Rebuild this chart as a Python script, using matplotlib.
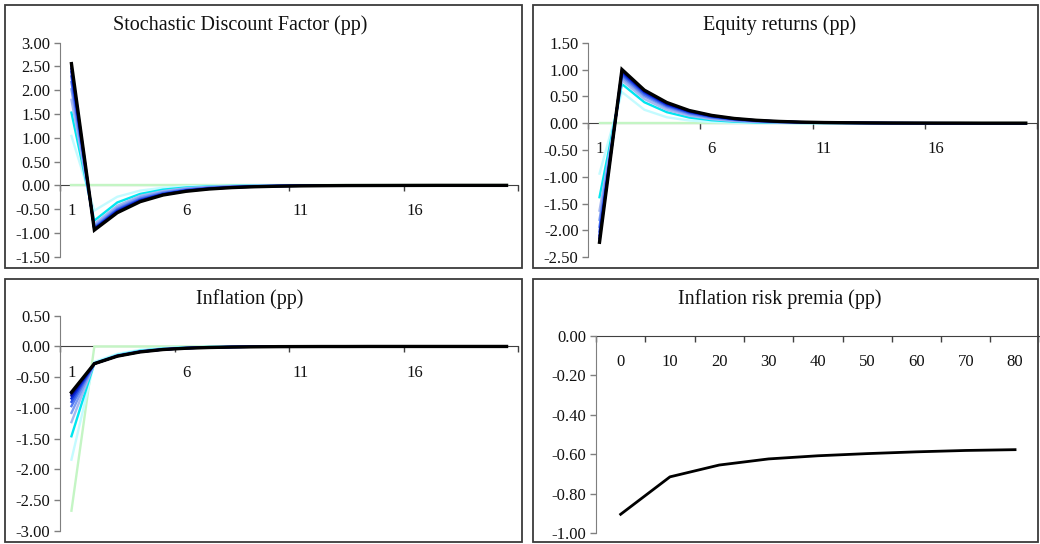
import matplotlib
matplotlib.use("Agg")
import matplotlib.pyplot as plt
from matplotlib.patches import Rectangle
from matplotlib.ticker import FormatStrFormatter

plt.rcParams['font.family'] = ['Liberation Serif', 'DejaVu Serif']
plt.rcParams['axes.unicode_minus'] = False

# ---------------- data ----------------
periods = list(range(1, 21))

sdf_0 = [0.0] * 20
sdf_1 = [1.04, -0.53, -0.24, -0.11, -0.05, -0.022, -0.01, -0.005, -0.002, -0.001, 0, 0, 0, 0, 0, 0, 0, 0, 0, 0]
sdf_2 = [1.53, -0.74, -0.36, -0.18, -0.09, -0.045, -0.022, -0.011, -0.005, -0.003, -0.001, 0, 0, 0, 0, 0, 0, 0, 0, 0]
sdf_3 = [1.80, -0.81, -0.43, -0.22, -0.12, -0.06, -0.03, -0.016, -0.008, -0.004, -0.002, -0.001, 0, 0, 0, 0, 0, 0, 0, 0]
sdf_4 = [2.02, -0.85, -0.47, -0.25, -0.14, -0.075, -0.04, -0.022, -0.012, -0.006, -0.003, -0.002, -0.001, 0, 0, 0, 0, 0, 0, 0]
sdf_5 = [2.17, -0.88, -0.50, -0.28, -0.16, -0.09, -0.05, -0.028, -0.016, -0.009, -0.005, -0.003, -0.002, -0.001, 0, 0, 0, 0, 0, 0]
sdf_6 = [2.29, -0.90, -0.52, -0.30, -0.175, -0.10, -0.058, -0.034, -0.02, -0.011, -0.006, -0.004, -0.002, -0.001, 0, 0, 0, 0, 0, 0]
sdf_7 = [2.38, -0.91, -0.54, -0.315, -0.185, -0.11, -0.065, -0.038, -0.022, -0.013, -0.008, -0.005, -0.003, -0.002, -0.001, 0, 0, 0, 0, 0]
sdf_8 = [2.45, -0.92, -0.555, -0.325, -0.19, -0.115, -0.07, -0.042, -0.025, -0.015, -0.009, -0.005, -0.003, -0.002, -0.001, 0, 0, 0, 0, 0]
sdf_9 = [2.51, -0.93, -0.565, -0.335, -0.198, -0.12, -0.073, -0.044, -0.027, -0.016, -0.01, -0.006, -0.004, -0.002, -0.001, -0.001, 0, 0, 0, 0]
sdf_10 = [2.56, -0.94, -0.575, -0.343, -0.203, -0.125, -0.077, -0.047, -0.029, -0.018, -0.011, -0.007, -0.004, -0.003, -0.002, -0.001, 0, 0, 0, 0]

eq_0 = [0.0] * 20
eq_1 = [-0.94, 0.58, 0.25, 0.11, 0.05, 0.022, 0.01, 0.005, 0.002, 0.001, 0, 0, 0, 0, 0, 0, 0, 0, 0, 0]
eq_2 = [-1.38, 0.73, 0.39, 0.205, 0.105, 0.055, 0.028, 0.014, 0.007, 0.004, 0.002, 0.001, 0, 0, 0, 0, 0, 0, 0, 0]
eq_3 = [-1.63, 0.80, 0.45, 0.25, 0.14, 0.075, 0.04, 0.022, 0.012, 0.006, 0.003, 0.002, 0.001, 0, 0, 0, 0, 0, 0, 0]
eq_4 = [-1.80, 0.85, 0.50, 0.29, 0.165, 0.095, 0.053, 0.03, 0.017, 0.009, 0.005, 0.003, 0.002, 0.001, 0, 0, 0, 0, 0, 0]
eq_5 = [-1.93, 0.89, 0.53, 0.315, 0.185, 0.108, 0.063, 0.036, 0.021, 0.012, 0.007, 0.004, 0.002, 0.001, 0.001, 0, 0, 0, 0, 0]
eq_6 = [-2.02, 0.92, 0.56, 0.335, 0.20, 0.12, 0.07, 0.042, 0.025, 0.015, 0.009, 0.005, 0.003, 0.002, 0.001, 0, 0, 0, 0, 0]
eq_7 = [-2.09, 0.95, 0.58, 0.35, 0.212, 0.128, 0.077, 0.046, 0.028, 0.017, 0.01, 0.006, 0.004, 0.002, 0.001, 0.001, 0, 0, 0, 0]
eq_8 = [-2.14, 0.97, 0.595, 0.365, 0.222, 0.135, 0.082, 0.05, 0.03, 0.018, 0.011, 0.007, 0.004, 0.002, 0.001, 0.001, 0, 0, 0, 0]
eq_9 = [-2.18, 0.99, 0.605, 0.375, 0.23, 0.14, 0.086, 0.053, 0.032, 0.02, 0.012, 0.007, 0.005, 0.003, 0.002, 0.001, 0.001, 0, 0, 0]
eq_10 = [-2.22, 1.00, 0.615, 0.385, 0.236, 0.145, 0.088, 0.054, 0.033, 0.02, 0.012, 0.008, 0.005, 0.003, 0.002, 0.001, 0.001, 0, 0, 0]

inf_0 = [-2.67, 0, 0, 0, 0, 0, 0, 0, 0, 0, 0, 0, 0, 0, 0, 0, 0, 0, 0, 0]
inf_1 = [-1.84, -0.25, -0.12, -0.055, -0.025, -0.011, -0.005, -0.002, -0.001, 0, 0, 0, 0, 0, 0, 0, 0, 0, 0, 0]
inf_2 = [-1.46, -0.27, -0.14, -0.07, -0.035, -0.017, -0.008, -0.004, -0.002, -0.001, 0, 0, 0, 0, 0, 0, 0, 0, 0, 0]
inf_3 = [-1.23, -0.275, -0.145, -0.077, -0.04, -0.021, -0.011, -0.006, -0.003, -0.002, -0.001, 0, 0, 0, 0, 0, 0, 0, 0, 0]
inf_4 = [-1.08, -0.277, -0.15, -0.08, -0.043, -0.023, -0.012, -0.007, -0.004, -0.002, -0.001, 0, 0, 0, 0, 0, 0, 0, 0, 0]
inf_5 = [-0.97, -0.278, -0.152, -0.083, -0.045, -0.025, -0.014, -0.008, -0.004, -0.002, -0.001, -0.001, 0, 0, 0, 0, 0, 0, 0, 0]
inf_6 = [-0.90, -0.279, -0.154, -0.085, -0.047, -0.026, -0.015, -0.008, -0.005, -0.003, -0.002, -0.001, 0, 0, 0, 0, 0, 0, 0, 0]
inf_7 = [-0.845, -0.28, -0.155, -0.086, -0.048, -0.027, -0.015, -0.009, -0.005, -0.003, -0.002, -0.001, 0, 0, 0, 0, 0, 0, 0, 0]
inf_8 = [-0.80, -0.28, -0.156, -0.087, -0.049, -0.028, -0.016, -0.009, -0.005, -0.003, -0.002, -0.001, -0.001, 0, 0, 0, 0, 0, 0, 0]
inf_9 = [-0.77, -0.28, -0.157, -0.088, -0.05, -0.028, -0.016, -0.009, -0.005, -0.003, -0.002, -0.001, -0.001, 0, 0, 0, 0, 0, 0, 0]
inf_10 = [-0.745, -0.28, -0.158, -0.089, -0.05, -0.029, -0.017, -0.01, -0.006, -0.003, -0.002, -0.001, -0.001, 0, 0, 0, 0, 0, 0, 0]

irp_horizons = ['0', '10', '20', '30', '40', '50', '60', '70', '80']
irp_values = [-0.905, -0.715, -0.655, -0.624, -0.608, -0.597, -0.588, -0.581, -0.577]

sdf_series = [sdf_0, sdf_1, sdf_2, sdf_3, sdf_4, sdf_5, sdf_6, sdf_7, sdf_8, sdf_9, sdf_10]
eq_series = [eq_0, eq_1, eq_2, eq_3, eq_4, eq_5, eq_6, eq_7, eq_8, eq_9, eq_10]
inf_series = [inf_0, inf_1, inf_2, inf_3, inf_4, inf_5, inf_6, inf_7, inf_8, inf_9, inf_10]

colors = ['#c4f5c4', '#c4fbff', '#00e6f0', '#a6b8f0', '#7c9cf4', '#5078f0',
          '#2a52e8', '#0a2ad8', '#0012b0', '#000070', '#000000']

# ---------------- layout ----------------
W, H = 1040, 544
fig = plt.figure(figsize=(W / 100, H / 100), dpi=100)
fig.patch.set_facecolor('white')


def rect(x0, x1, ytop, ybot):
    return [x0 / W, 1 - ybot / H, (x1 - x0) / W, (ybot - ytop) / H]


# panel borders
for (x0, y0, x1, y1) in [(5, 5, 522, 268), (533, 5, 1038, 268),
                         (5, 279, 522, 542), (533, 279, 1038, 542)]:
    fig.patches.append(Rectangle((x0 / W, 1 - y1 / H), (x1 - x0) / W, (y1 - y0) / H,
                                 transform=fig.transFigure, fill=False,
                                 edgecolor='#3a3a3a', linewidth=1.3))

AXC = '#7f7f7f'


def style(ax, ylim, ystep, xlim, major, minor, minor_labels):
    ax.set_ylim(*ylim)
    n = int(round((ylim[1] - ylim[0]) / ystep))
    ax.set_yticks([ylim[0] + i * ystep for i in range(n + 1)])
    ax.yaxis.set_major_formatter(FormatStrFormatter('%.2f'))
    ax.set_xlim(*xlim)
    ax.set_xticks(major)
    ax.set_xticklabels([])
    ax.set_xticks(minor, minor=True)
    ax.set_xticklabels(minor_labels, minor=True)
    for s in ['top', 'right']:
        ax.spines[s].set_visible(False)
    ax.spines['left'].set_color(AXC)
    ax.spines['bottom'].set_color('#404040')
    ax.spines['bottom'].set_position(('data', 0))
    ax.spines['bottom'].set_zorder(1)
    ax.tick_params(axis='y', direction='out', length=4, width=1, color=AXC,
                   labelsize=12, pad=3, labelcolor='#111111')
    ax.tick_params(axis='x', which='major', direction='out', length=4, width=1,
                   color='#404040')
    ax.tick_params(axis='x', which='minor', length=0, labelsize=12, pad=13,
                   labelcolor='#111111')
    ax.set_facecolor('none')
    ax.patch.set_visible(False)


def draw_family(ax, series):
    for i, (ys, c) in enumerate(zip(series, colors)):
        lw = 2.4 if i == len(series) - 1 else 1.7
        ax.plot(periods, ys, color=c, lw=lw, solid_joinstyle='miter', zorder=3 + i)


cat_major = [0.5, 5.5, 10.5, 15.5, 20.5]
cat_minor = [1, 6, 11, 16]
cat_labels = ['1', '6', '11', '16']

ax1 = fig.add_axes(rect(60, 518, 42.7, 256.7))
draw_family(ax1, sdf_series)
style(ax1, (-1.5, 3.0), 0.5, (0.5, 20.5), cat_major, cat_minor, cat_labels)

ax2 = fig.add_axes(rect(588.3, 1037, 42.7, 257.3))
draw_family(ax2, eq_series)
style(ax2, (-2.5, 1.5), 0.5, (0.5, 0.5 + (1037 - 588.3) / 23.0), cat_major, cat_minor, cat_labels)

ax3 = fig.add_axes(rect(60, 518, 315.7, 531))
draw_family(ax3, inf_series)
style(ax3, (-3.0, 0.5), 0.5, (0.5, 20.5), cat_major, cat_minor, cat_labels)

ax4 = fig.add_axes(rect(596, 1040, 336, 533))
xs4 = list(range(1, len(irp_values) + 1))
ax4.plot(xs4, irp_values, color='black', lw=2.0, zorder=4)
style(ax4, (-1.0, 0.0), 0.2, (0.5, 0.5 + (1040 - 596) / 49.3),
      [0.5 + i for i in range(10)], xs4, irp_horizons)

# titles
tkw = dict(fontsize=14.5, ha='center', va='center', color='#111111')
fig.text(240 / W, 1 - 25 / H, 'Stochastic Discount Factor (pp)', **tkw)
fig.text(780 / W, 1 - 25 / H, 'Equity returns (pp)', **tkw)
fig.text(250 / W, 1 - 299 / H, 'Inflation (pp)', **tkw)
fig.text(780 / W, 1 - 299 / H, 'Inflation risk premia (pp)', **tkw)

fig.savefig('out.png', dpi=100, facecolor='white')
